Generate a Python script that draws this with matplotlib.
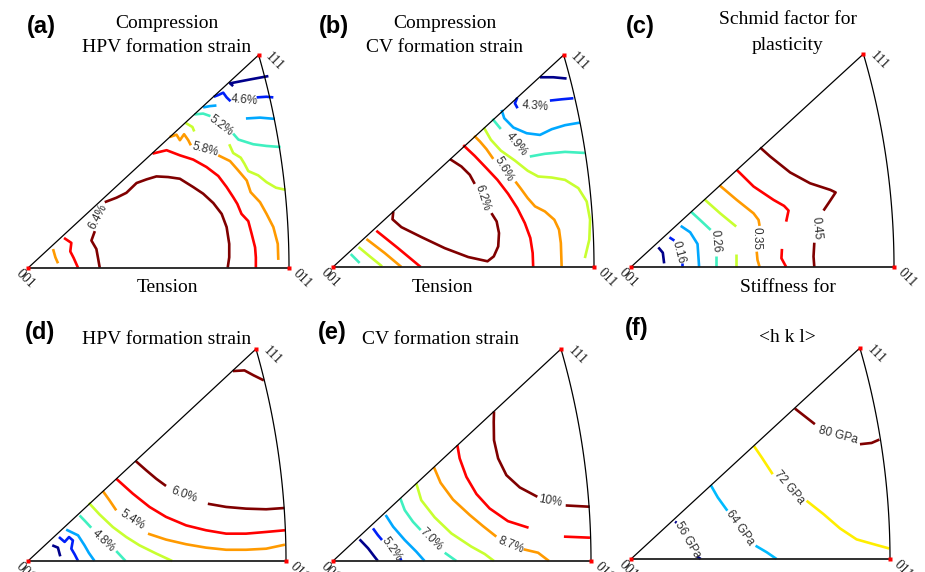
import numpy as np
import matplotlib.pyplot as plt

plt.rcParams['font.family'] = ['Liberation Sans', 'DejaVu Sans']

# contour pieces per panel: (level index, [(u, v), ...])
# u runs 001 -> 011 along the base (0..1), v runs from the base up to 111 (0..1)
a_lines = [
    (0, [(0.921, 0.901), (0.850, 0.885), (0.774, 0.867), (0.786, 0.854)]),
    (1, [(0.712, 0.804), (0.729, 0.812), (0.748, 0.823), (0.761, 0.801), (0.776, 0.783)]),
    (1, [(0.876, 0.801), (0.914, 0.804), (0.940, 0.801)]),
    (2, [(0.671, 0.754), (0.697, 0.760), (0.722, 0.763)]),
    (2, [(0.835, 0.702), (0.889, 0.706), (0.946, 0.700)]),
    (3, [(0.637, 0.721), (0.671, 0.725), (0.699, 0.713)]),
    (3, [(0.786, 0.631), (0.806, 0.603), (0.863, 0.581), (0.914, 0.573), (0.968, 0.568)]),
    (4, [(0.604, 0.681), (0.630, 0.662), (0.637, 0.641)]),
    (4, [(0.771, 0.581), (0.786, 0.540), (0.815, 0.518), (0.829, 0.490), (0.844, 0.455),
         (0.882, 0.435), (0.914, 0.403), (0.950, 0.377), (0.987, 0.367)]),
    (5, [(0.543, 0.615), (0.569, 0.626), (0.582, 0.600), (0.598, 0.628), (0.614, 0.600), (0.624, 0.576)]),
    (5, [(0.729, 0.529), (0.774, 0.502), (0.802, 0.463), (0.838, 0.411), (0.853, 0.356),
         (0.889, 0.309), (0.914, 0.254), (0.940, 0.192), (0.957, 0.113), (0.959, 0.038)]),
    (5, [(0.096, 0.089), (0.105, 0.050), (0.115, 0.022)]),
    (6, [(0.477, 0.537), (0.531, 0.553), (0.582, 0.529), (0.633, 0.509), (0.684, 0.474),
         (0.729, 0.432), (0.761, 0.380), (0.786, 0.333), (0.802, 0.301), (0.818, 0.254),
         (0.844, 0.220), (0.857, 0.160), (0.870, 0.097), (0.873, 0.050), (0.873, 0.0)]),
    (6, [(0.138, 0.141), (0.166, 0.118), (0.162, 0.078), (0.175, 0.047), (0.192, 0.0)]),
    (7, [(0.294, 0.309), (0.339, 0.330), (0.377, 0.353), (0.416, 0.399), (0.454, 0.416),
         (0.492, 0.430), (0.537, 0.427), (0.582, 0.419), (0.633, 0.380), (0.671, 0.349),
         (0.710, 0.305), (0.742, 0.254), (0.761, 0.192), (0.771, 0.113), (0.771, 0.050), (0.765, 0.0)]),
    (7, [(0.256, 0.173), (0.243, 0.129), (0.262, 0.089), (0.269, 0.042), (0.275, 0.0)]),
]
a_labels = [("4.6%", 0.827, 0.788, -5), ("5.2%", 0.739, 0.670, -37),
            ("5.8%", 0.678, 0.557, -15), ("6.4%", 0.269, 0.239, 62)]

b_lines = [
    (0, [(0.793, 0.895), (0.844, 0.895), (0.895, 0.889)]),
    (1, [(0.706, 0.799), (0.697, 0.772), (0.707, 0.749)]),
    (1, [(0.831, 0.785), (0.876, 0.791), (0.921, 0.796)]),
    (2, [(0.646, 0.741), (0.656, 0.702), (0.691, 0.658), (0.742, 0.631), (0.793, 0.623),
         (0.838, 0.650), (0.889, 0.669), (0.946, 0.681)]),
    (3, [(0.611, 0.699), (0.627, 0.675), (0.643, 0.651)]),
    (3, [(0.754, 0.521), (0.812, 0.534), (0.889, 0.543), (0.965, 0.538)]),
    (3, [(0.068, 0.061), (0.102, 0.019)]),
    (4, [(0.578, 0.658), (0.605, 0.600), (0.643, 0.549), (0.697, 0.502), (0.746, 0.454),
         (0.786, 0.427), (0.838, 0.422), (0.889, 0.411), (0.940, 0.372), (0.972, 0.309),
         (0.985, 0.223), (0.982, 0.129), (0.965, 0.042)]),
    (4, [(0.098, 0.094), (0.141, 0.050), (0.188, 0.003)]),
    (5, [(0.541, 0.619), (0.563, 0.592), (0.588, 0.556), (0.614, 0.510)]),
    (5, [(0.699, 0.403), (0.720, 0.369), (0.746, 0.325), (0.774, 0.286), (0.812, 0.262),
         (0.848, 0.223), (0.866, 0.176), (0.873, 0.113), (0.876, 0.003)]),
    (5, [(0.128, 0.132), (0.198, 0.066), (0.262, 0.0)]),
    (6, [(0.499, 0.575), (0.543, 0.524), (0.588, 0.466), (0.630, 0.411), (0.671, 0.345),
         (0.706, 0.278), (0.735, 0.207), (0.756, 0.137), (0.765, 0.066), (0.767, 0.0)]),
    (6, [(0.166, 0.171), (0.249, 0.089), (0.336, 0.0)]),
    (7, [(0.448, 0.509), (0.492, 0.474), (0.524, 0.435), (0.543, 0.392)]),
    (7, [(0.607, 0.254), (0.627, 0.215), (0.636, 0.160), (0.633, 0.097), (0.616, 0.050),
         (0.592, 0.027), (0.518, 0.047), (0.428, 0.089), (0.339, 0.141), (0.262, 0.188),
         (0.228, 0.225), (0.231, 0.262)]),
]
b_labels = [("4.3%", 0.776, 0.760, -5), ("4.9%", 0.703, 0.581, -50),
            ("5.6%", 0.655, 0.462, -60), ("6.2%", 0.572, 0.325, -72)]

c_lines = [
    (0, [(0.104, 0.092), (0.121, 0.067), (0.126, 0.017)]),
    (1, [(0.146, 0.139), (0.165, 0.124)]),
    (1, [(0.193, 0.020), (0.193, 0.0)]),
    (2, [(0.189, 0.193), (0.225, 0.163), (0.253, 0.108), (0.259, 0.0)]),
    (3, [(0.228, 0.260), (0.265, 0.218), (0.303, 0.174)]),
    (3, [(0.324, 0.052), (0.324, 0.0)]),
    (4, [(0.279, 0.318), (0.339, 0.252), (0.400, 0.190)]),
    (4, [(0.398, 0.061), (0.398, 0.0)]),
    (5, [(0.336, 0.384), (0.402, 0.315), (0.466, 0.252), (0.485, 0.221), (0.489, 0.193)]),
    (5, [(0.478, 0.072), (0.481, 0.033), (0.489, 0.0)]),
    (6, [(0.402, 0.456), (0.466, 0.378), (0.542, 0.315), (0.582, 0.287), (0.599, 0.265), (0.590, 0.213)]),
    (6, [(0.574, 0.085), (0.572, 0.041), (0.590, 0.0)]),
    (7, [(0.491, 0.561), (0.529, 0.519), (0.605, 0.444), (0.681, 0.393), (0.758, 0.362),
         (0.778, 0.350), (0.755, 0.307), (0.732, 0.265)]),
    (7, [(0.697, 0.114), (0.694, 0.049), (0.697, 0.0)]),
]
c_labels = [("0.16", 0.180, 0.069, -75), ("0.26", 0.320, 0.119, -85),
            ("0.35", 0.478, 0.133, -90), ("0.45", 0.707, 0.182, -85)]

d_lines = [
    (7, [(0.794, 0.896), (0.839, 0.899), (0.874, 0.876), (0.914, 0.852)]),
    (7, [(0.417, 0.472), (0.458, 0.428), (0.497, 0.388), (0.535, 0.354)]),
    (7, [(0.697, 0.270), (0.768, 0.255), (0.845, 0.247), (0.923, 0.244), (0.994, 0.250)]),
    (6, [(0.342, 0.388), (0.406, 0.318), (0.471, 0.255), (0.535, 0.208), (0.613, 0.168),
         (0.690, 0.145), (0.768, 0.129), (0.845, 0.129), (0.923, 0.137), (0.996, 0.145)]),
    (5, [(0.290, 0.330), (0.316, 0.286), (0.342, 0.239)]),
    (5, [(0.465, 0.129), (0.535, 0.101), (0.613, 0.079), (0.690, 0.063), (0.768, 0.053),
         (0.845, 0.053), (0.923, 0.058), (0.996, 0.077)]),
    (4, [(0.236, 0.274), (0.277, 0.220), (0.329, 0.160), (0.381, 0.113), (0.432, 0.074),
         (0.497, 0.035), (0.559, 0.0)]),
    (3, [(0.200, 0.215), (0.223, 0.186), (0.245, 0.157)]),
    (3, [(0.342, 0.047), (0.378, 0.0)]),
    (2, [(0.148, 0.148), (0.194, 0.121), (0.219, 0.074), (0.236, 0.038), (0.258, 0.0)]),
    (1, [(0.120, 0.113), (0.142, 0.090), (0.159, 0.113), (0.174, 0.097), (0.168, 0.058),
         (0.181, 0.031), (0.194, 0.0)]),
    (0, [(0.094, 0.074), (0.116, 0.063), (0.125, 0.022)]),
]
d_labels = [("6.0%", 0.604, 0.313, -20), ("5.4%", 0.404, 0.192, -33), ("4.8%", 0.294, 0.097, -43)]

e_lines = [
    (7, [(0.624, 0.706), (0.623, 0.656), (0.624, 0.570), (0.640, 0.484), (0.672, 0.405),
         (0.724, 0.347), (0.792, 0.303)]),
    (7, [(0.902, 0.262), (0.995, 0.256)]),
    (6, [(0.482, 0.546), (0.491, 0.484), (0.517, 0.397), (0.556, 0.316), (0.607, 0.248),
         (0.678, 0.188), (0.758, 0.157)]),
    (6, [(0.895, 0.115), (0.996, 0.110)]),
    (5, [(0.391, 0.443), (0.417, 0.369), (0.465, 0.290), (0.530, 0.217), (0.581, 0.165), (0.633, 0.115)]),
    (5, [(0.739, 0.055), (0.795, 0.039), (0.837, 0.0)]),
    (4, [(0.323, 0.366), (0.342, 0.287), (0.394, 0.206), (0.459, 0.130), (0.536, 0.068),
         (0.588, 0.033), (0.624, 0.0)]),
    (3, [(0.261, 0.295), (0.278, 0.240), (0.310, 0.185), (0.340, 0.146)]),
    (3, [(0.433, 0.039), (0.478, 0.0)]),
    (2, [(0.204, 0.217), (0.233, 0.162), (0.278, 0.099), (0.323, 0.044), (0.355, 0.0)]),
    (1, [(0.155, 0.154), (0.174, 0.122), (0.190, 0.099)]),
    (1, [(0.261, 0.013), (0.265, 0.0)]),
    (0, [(0.103, 0.102), (0.136, 0.060), (0.161, 0.020), (0.174, 0.0)]),
]
e_labels = [("10%", 0.840, 0.283, -10), ("8.7%", 0.689, 0.075, -22),
            ("7.0%", 0.379, 0.102, -45), ("5.2%", 0.229, 0.055, -55)]

f_lines = [
    (3, [(0.633, 0.713), (0.710, 0.639)]),
    (3, [(0.884, 0.544), (0.929, 0.550), (0.959, 0.566)]),
    (2, [(0.475, 0.535), (0.505, 0.481), (0.547, 0.402)]),
    (2, [(0.678, 0.276), (0.743, 0.213), (0.807, 0.145), (0.871, 0.093), (0.949, 0.066), (0.997, 0.050)]),
    (1, [(0.308, 0.350), (0.335, 0.292), (0.372, 0.229)]),
    (1, [(0.481, 0.063), (0.524, 0.032), (0.562, 0.0)]),
    (0, [(0.170, 0.177), (0.176, 0.172)]),
    (0, [(0.256, 0.011), (0.269, 0.0)]),
]
f_labels = [("80 GPa", 0.798, 0.587, -15), ("72 GPa", 0.610, 0.339, -50),
            ("64 GPa", 0.421, 0.148, -55), ("56 GPa", 0.218, 0.090, -60)]

tags = ["(a)", "(b)", "(c)", "(d)", "(e)", "(f)"]
top_titles = [["Compression", "HPV formation strain"], ["Compression", "CV formation strain"],
              ["Schmid factor for", "plasticity"], ["HPV formation strain"],
              ["CV formation strain"], ["<h k l>"]]
bottom_titles = ["Tension", "Tension", "Stiffness for", "", "", ""]

# jet-like level colours, low -> high
colors8 = ['#00008B', '#0020F8', '#00A8FF', '#40F0C0', '#C8FF30', '#FF9A00', '#FF0000', '#800000']
colors4 = ['#00008B', '#00BBFF', '#FFEE00', '#800000']
level_colors = [colors8, colors8, colors8, colors8, colors8, colors4]

FW, FH = 925, 572
fig = plt.figure(figsize=(FW / 100, FH / 100), dpi=100)
fig.patch.set_facecolor('white')


def fx(x):
    return x / FW


def fy(y):
    return 1 - y / FH


# stereographic unit triangle: 001 at origin, 011 on the base, 111 at the apex
T011 = np.tan(np.pi / 8)
T111 = 1 / (np.sqrt(3) + 1)
apex_u = T111 / T011
s = np.linspace(0, 1, 60)
nrm = np.sqrt(s ** 2 + 2)
arc_u = 1 / (nrm + 1) / T011
arc_v = s / (nrm + 1) / T111


def draw_panel(ox, oy, W, H, lines, labels, cols):
    u0, u1, v0, v1 = -0.2, 1.2, -0.2, 1.3
    ax = fig.add_axes([fx(ox + u0 * W), fy(oy - v0 * H), (u1 - u0) * W / FW, (v1 - v0) * H / FH])
    ax.set_xlim(u0, u1)
    ax.set_ylim(v0, v1)
    ax.axis('off')
    for lev, pts in lines:
        u, v = zip(*pts)
        ax.plot(u, v, color=cols[lev], lw=1.9, solid_capstyle='butt', solid_joinstyle='round')
    for txt, u, v, rot in labels:
        ax.text(u, v, txt, rotation=rot, ha='center', va='center', fontsize=8.5,
                color='#303030', rotation_mode='anchor')
    # triangle frame
    ax.plot([0, 1], [0, 0], color='#202020', lw=1.3)
    ax.plot([0, apex_u], [0, 1], color='black', lw=0.9)
    ax.plot(arc_u, arc_v, color='black', lw=0.9)
    ax.plot([0, 1, apex_u], [0, 0, 1], 's', color='red', ms=3.2, mec='none', clip_on=False)
    for name, pos, off in [("001", (0, 0), (-2, -8)), ("011", (1, 0), (9.5, -8)),
                           ("111", (apex_u, 1), (11.5, -5))]:
        ax.annotate(name, pos, xytext=off, textcoords='offset points', rotation=-45,
                    ha='center', va='center', fontsize=10, family='Liberation Serif',
                    color='#202020')
    return ax


corners = [(28, 268, 261, 213), (333, 267, 261, 212), (631, 267, 263, 213),
           (28, 561, 258, 212), (333, 561, 258, 212), (631, 559, 259, 211)]
all_lines = [a_lines, b_lines, c_lines, d_lines, e_lines, f_lines]
all_labels = [a_labels, b_labels, c_labels, d_labels, e_labels, f_labels]

for i, (ox, oy, W, H) in enumerate(corners):
    draw_panel(ox, oy, W, H, all_lines[i], all_labels[i], level_colors[i])

tag_pos = [(41, 27), (334, 27), (640, 27), (40, 332), (332, 332), (637, 328)]
for t, (x, y) in zip(tags, tag_pos):
    fig.text(fx(x), fy(y), t, fontsize=17, fontweight='bold', ha='center', va='center')

serif = {'family': 'Liberation Serif', 'size': 14}
title_pos = [(167, 23, 47), (445, 23, 47), (788, 20, 45), (167, 340, None), (440, 340, None), (787, 338, None)]
for lines, (x, y1, y2) in zip(top_titles, title_pos):
    fig.text(fx(x), fy(y1), lines[0], ha='center', va='center', **serif)
    if len(lines) > 1:
        fig.text(fx(x), fy(y2), lines[1], ha='center', va='center', **serif)

bottom_pos = [(167, 288), (442, 288), (788, 287)]
for t, (x, y) in zip(bottom_titles, bottom_pos):
    fig.text(fx(x), fy(y), t, ha='center', va='center', **serif)

fig.savefig('out.png', dpi=100)
